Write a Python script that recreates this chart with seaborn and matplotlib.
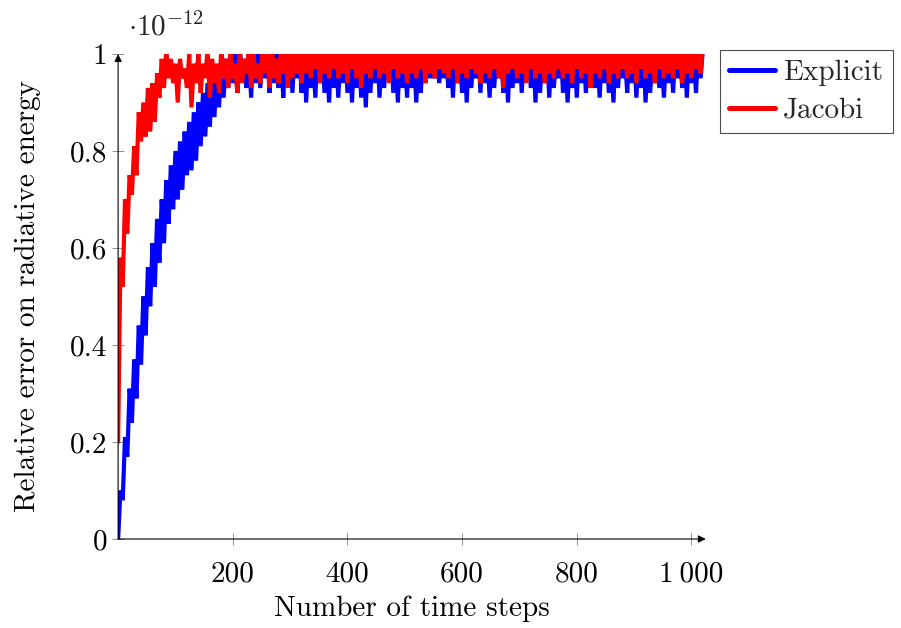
import numpy as np
import pandas as pd
import matplotlib
matplotlib.use("Agg")
import matplotlib.pyplot as plt
import seaborn as sns

# time steps, one sample every 4 steps
steps = list(range(0, 1024, 4))

# Explicit scheme, relative error (x 1e-12)
explicit = [
    0.00, 0.10, 0.08, 0.21, 0.17, 0.31, 0.24, 0.37, 0.29, 0.44, 0.36, 0.50, 0.42, 0.56, 0.48, 0.61,
    0.52, 0.66, 0.57, 0.70, 0.61, 0.74, 0.65, 0.77, 0.68, 0.80, 0.70, 0.82, 0.72, 0.84, 0.75, 0.86,
    0.76, 0.88, 0.78, 0.90, 0.81, 0.92, 0.83, 0.94, 0.85, 0.96, 0.87, 0.97, 0.89, 0.98, 0.91, 0.99,
    0.93, 1.01, 0.94, 1.00, 0.92, 1.02, 0.95, 0.99, 0.93, 1.01, 0.91, 1.02, 0.94, 1.00, 0.93, 1.01,
    0.95, 1.02, 0.92, 1.00, 0.94, 1.01, 0.93, 1.03, 0.91, 1.00, 0.94, 1.02, 0.92, 1.01, 0.95, 1.00,
    0.92, 1.02, 0.90, 1.01, 0.93, 1.00, 0.91, 1.02, 0.94, 1.01, 0.92, 1.00, 0.90, 1.02, 0.93, 1.01,
    0.91, 1.00, 0.94, 1.02, 0.92, 1.01, 0.90, 1.03, 0.93, 1.00, 0.91, 1.02, 0.89, 1.01, 0.92, 1.00,
    0.94, 1.02, 0.91, 1.01, 0.93, 1.00, 0.95, 1.02, 0.92, 1.01, 0.90, 1.03, 0.93, 1.00, 0.91, 1.02,
    0.93, 1.01, 0.90, 1.00, 0.92, 1.02, 0.94, 1.01, 0.95, 1.00, 0.95, 1.02, 0.94, 1.01, 0.95, 1.00,
    0.93, 1.02, 0.91, 1.01, 0.94, 1.00, 0.92, 1.02, 0.90, 1.01, 0.93, 1.00, 0.95, 1.02, 0.92, 1.01,
    0.94, 1.00, 0.91, 1.02, 0.93, 1.01, 0.95, 1.00, 0.92, 1.03, 0.90, 1.01, 0.93, 1.00, 0.94, 1.02,
    0.92, 1.01, 0.95, 1.00, 0.93, 1.02, 0.90, 1.01, 0.92, 1.00, 0.94, 1.02, 0.91, 1.01, 0.93, 1.00,
    0.95, 1.02, 0.92, 1.01, 0.90, 1.00, 0.93, 1.02, 0.91, 1.01, 0.94, 1.00, 0.92, 1.03, 0.95, 1.01,
    0.93, 1.00, 0.91, 1.02, 0.94, 1.01, 0.92, 1.00, 0.90, 1.02, 0.93, 1.01, 0.95, 1.00, 0.92, 1.02,
    0.94, 1.01, 0.91, 1.00, 0.93, 1.02, 0.90, 1.01, 0.92, 1.00, 0.94, 1.02, 0.93, 1.01, 0.91, 1.00,
    0.94, 1.02, 0.92, 1.01, 0.95, 1.00, 0.93, 1.02, 0.91, 1.01, 0.94, 1.00, 0.92, 1.02, 0.95, 1.01,
]

# Jacobi scheme
jacobi = [
    0.20, 0.58, 0.52, 0.70, 0.63, 0.75, 0.71, 0.81, 0.75, 0.88, 0.82, 0.90, 0.83, 0.93, 0.84, 0.94,
    0.86, 0.96, 0.91, 0.99, 0.93, 1.01, 0.95, 0.99, 0.94, 0.98, 0.90, 0.99, 0.95, 0.97, 0.93, 1.00,
    0.89, 0.98, 0.94, 1.00, 0.92, 0.98, 0.95, 1.01, 0.91, 0.99, 0.94, 0.98, 0.92, 1.01, 0.95, 0.99,
    0.93, 1.00, 0.95, 0.98, 0.92, 1.01, 0.94, 0.99, 0.96, 1.01, 0.93, 1.00, 0.95, 0.98, 0.94, 1.01,
    0.96, 1.00, 0.93, 1.02, 0.95, 0.99, 0.94, 1.01, 0.96, 1.00, 0.93, 1.02, 0.95, 1.01, 0.96, 1.00,
    0.94, 1.02, 0.96, 1.01, 0.95, 1.00, 0.97, 1.02, 0.94, 1.01, 0.96, 1.00, 0.95, 1.02, 0.97, 1.01,
    0.95, 1.00, 0.96, 1.02, 0.94, 1.01, 0.97, 1.00, 0.95, 1.02, 0.93, 1.01, 0.96, 1.00, 0.95, 1.02,
    0.97, 1.01, 0.95, 1.00, 0.96, 1.02, 0.94, 1.01, 0.97, 1.00, 0.95, 1.02, 0.96, 1.01, 0.94, 1.00,
    0.96, 1.02, 0.95, 1.01, 0.97, 1.00, 0.94, 1.02, 0.96, 1.01, 0.95, 1.00, 0.97, 1.02, 0.96, 1.01,
    0.95, 1.00, 0.97, 1.02, 0.94, 1.01, 0.96, 1.00, 0.95, 1.02, 0.97, 1.01, 0.96, 1.00, 0.94, 1.02,
    0.96, 1.01, 0.95, 1.00, 0.97, 1.02, 0.95, 1.01, 0.93, 1.00, 0.96, 1.02, 0.97, 1.01, 0.95, 1.00,
    0.96, 1.02, 0.94, 1.01, 0.97, 1.00, 0.95, 1.02, 0.96, 1.01, 0.94, 1.00, 0.96, 1.02, 0.95, 1.01,
    0.97, 1.00, 0.95, 1.02, 0.96, 1.01, 0.94, 1.00, 0.97, 1.02, 0.95, 1.01, 0.96, 1.00, 0.93, 1.02,
    0.96, 1.01, 0.95, 1.00, 0.97, 1.02, 0.94, 1.01, 0.96, 1.00, 0.95, 1.02, 0.97, 1.01, 0.95, 1.00,
    0.96, 1.02, 0.94, 1.01, 0.97, 1.00, 0.95, 1.02, 0.96, 1.01, 0.94, 1.00, 0.97, 1.02, 0.95, 1.01,
    0.96, 1.00, 0.95, 1.02, 0.97, 1.01, 0.94, 1.00, 0.96, 1.02, 0.95, 1.01, 0.97, 1.00, 0.96, 1.02,
]

series_names = ["Explicit", "Jacobi"]
series_colors = ["#0000ff", "#ff0000"]

x_ticks = [200, 400, 600, 800, 1000]
x_tick_labels = ["200", "400", "600", "800", "1\u2009000"]
y_ticks = [0, 0.2, 0.4, 0.6, 0.8, 1]
y_tick_labels = ["0", "0.2", "0.4", "0.6", "0.8", "1"]

sns.set_theme(style="white")
plt.rcParams["font.family"] = ["cmr10", "DejaVu Serif"]
plt.rcParams["mathtext.fontset"] = "cm"
plt.rcParams["axes.unicode_minus"] = False
FS = 21

df = pd.DataFrame({
    "step": steps * 2,
    "value": explicit + jacobi,
    "method": [series_names[0]] * len(steps) + [series_names[1]] * len(steps),
})

fig = plt.figure(figsize=(9.01, 6.28), dpi=100)
ax = fig.add_axes([0.1311, 0.1417, 0.6522, 0.7723])

sns.lineplot(data=df, x="step", y="value", hue="method", hue_order=series_names,
             palette=dict(zip(series_names, series_colors)), estimator=None, sort=False,
             linewidth=3.0, solid_joinstyle="miter", ax=ax)

ax.set_xlim(0, 1025)
ax.set_ylim(0, 1)
for s in ax.spines.values():
    s.set_visible(False)

# pgfplots style axis lines with arrow heads
arrow = dict(arrowstyle="-|>", color="black", lw=0.8, shrinkA=0, shrinkB=0, mutation_scale=11)
ax.annotate("", xy=(1.0, 0), xytext=(0, 0), xycoords="axes fraction", arrowprops=arrow, annotation_clip=False)
ax.annotate("", xy=(0, 1.0), xytext=(0, 0), xycoords="axes fraction", arrowprops=arrow, annotation_clip=False)

ax.set_xticks(x_ticks)
ax.set_xticklabels(x_tick_labels)
ax.set_yticks(y_ticks)
ax.set_yticklabels(y_tick_labels)
ax.tick_params(axis="both", direction="inout", length=8, width=0.6, color="0.5",
               labelsize=FS, labelcolor="black", bottom=True, left=True)
ax.tick_params(axis="x", pad=12)
ax.tick_params(axis="y", pad=4)

ax.set_xlabel("Number of time steps", fontsize=FS, color="black")
ax.set_ylabel("Relative error on radiative energy", fontsize=FS, color="black")
ax.xaxis.set_label_coords(0.5, -0.117)
ax.yaxis.set_label_coords(-0.131, 0.5)

fig.text(128 / 901, 1 - 36 / 628, r"$\cdot 10^{-12}$", fontsize=FS, va="baseline", ha="left")

leg = ax.legend(loc="upper left", bbox_to_anchor=(720 / 901, 1 - 50 / 628), bbox_transform=fig.transFigure,
                fontsize=FS, frameon=True, fancybox=False, framealpha=1, edgecolor="0.3",
                handlelength=1.55, handletextpad=0.3, labelspacing=0.4, borderpad=0.32, borderaxespad=0)
leg.get_frame().set_linewidth(0.8)
for line in leg.get_lines():
    line.set_linewidth(3.6)

fig.savefig("out.png", dpi=100)
